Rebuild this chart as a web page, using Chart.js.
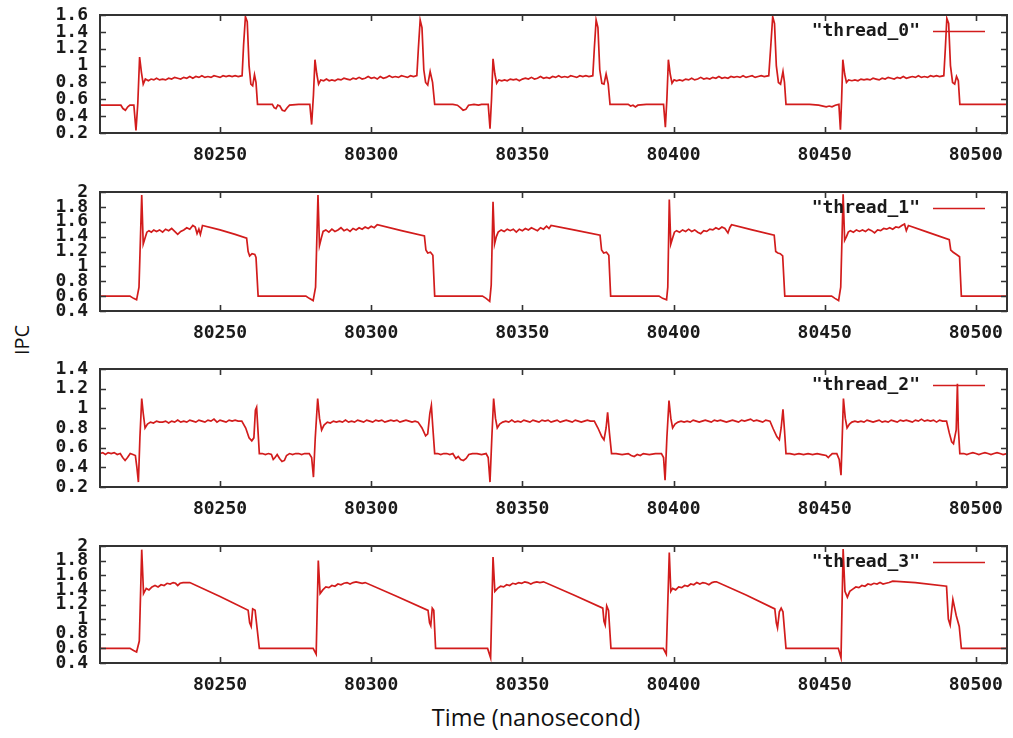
<!DOCTYPE html>
<html><head><meta charset="utf-8">
<script src="https://cdn.jsdelivr.net/npm/chart.js@4.4.1/dist/chart.umd.min.js"></script>
<style>
body{margin:0;background:#fff;width:1013px;height:738px;position:relative;overflow:hidden}
canvas{position:absolute;left:0}
#ylab{position:absolute;left:21px;top:340px;transform:translate(-50%,-50%) rotate(-90deg);font:20px "Open Sans";color:#111;white-space:nowrap}
#xlab{position:absolute;left:536px;top:717px;transform:translate(-50%,-50%);font:23.5px "Open Sans";color:#111;white-space:nowrap}
</style></head>
<body>
<div id="ylab">IPC</div>
<div id="xlab">Time (nanosecond)</div>
<script>
// ---- data (time in ns, IPC) ----
const xTicks = [80250, 80300, 80350, 80400, 80450, 80500];
const xMin = 80210.3, xMax = 80510.3;
const yTicks0 = [0.2, 0.4, 0.6, 0.8, 1.0, 1.2, 1.4, 1.6];
const yTicks1 = [0.4, 0.6, 0.8, 1.0, 1.2, 1.4, 1.6, 1.8, 2.0];
const yTicks2 = [0.2, 0.4, 0.6, 0.8, 1.0, 1.2, 1.4];
const yTicks3 = [0.4, 0.6, 0.8, 1.0, 1.2, 1.4, 1.6, 1.8, 2.0];
const seriesNames = ["thread_0", "thread_1", "thread_2", "thread_3"];

const thread0 = [
[80210.3,0.53],[80213,0.53],[80217.2,0.53],[80217.9,0.49],[80218.7,0.47],[80219.5,0.51],[80220.2,0.53],[80221.5,0.53],[80222.2,0.23],[80222.8,0.55],[80223.4,1.1],[80224,0.92],[80224.6,0.78],[80225.3,0.84],
[80226.3,0.82],[80227.2,0.84],[80228.1,0.83],[80229,0.85],[80230,0.83],[80231,0.84],[80232,0.83],[80233,0.85],[80234,0.84],[80235,0.86],[80236,0.85],[80237,0.84],[80238,0.86],[80239,0.85],[80240,0.87],[80241,0.85],[80242,0.87],[80243,0.86],[80244,0.88],[80245,0.86],[80246,0.87],[80247,0.86],[80248,0.88],[80249,0.87],[80250,0.86],[80251,0.88],[80252,0.87],[80253,0.88],[80254,0.87],[80255,0.88],[80256,0.87],[80257.3,0.88],
[80257.8,1.25],[80258.4,1.58],[80259,1.52],[80259.6,1.0],[80260.2,0.78],[80260.8,0.76],[80261.4,0.89],[80261.9,0.8],[80262.4,0.54],
[80265,0.54],[80267.3,0.54],[80267.9,0.5],[80268.5,0.49],[80269.1,0.53],[80269.8,0.52],[80270.6,0.47],[80271.4,0.46],[80272.2,0.5],[80273,0.53],[80276,0.54],[80279.7,0.54],
[80280.3,0.3],[80280.9,0.65],[80281.4,1.07],[80282,0.9],[80282.6,0.78],[80283.3,0.83],
[80284.3,0.82],[80285.2,0.84],[80286.1,0.82],[80287,0.83],[80288,0.82],[80289,0.84],[80290,0.83],[80291,0.85],[80292,0.84],[80293,0.83],[80294,0.85],[80295,0.84],[80296,0.86],[80297,0.84],[80298,0.85],[80299,0.87],[80300,0.85],[80301,0.86],[80302,0.84],[80303,0.87],[80304,0.85],[80305,0.86],[80306,0.88],[80307,0.86],[80308,0.87],[80309,0.86],[80310,0.88],[80311,0.87],[80312,0.86],[80313,0.88],[80314,0.87],[80315.1,0.88],
[80315.6,1.2],[80316.2,1.54],[80316.8,1.45],[80317.4,0.95],[80318,0.8],[80318.7,0.77],[80319.5,0.93],[80320.3,0.8],[80321,0.54],
[80323,0.54],[80327,0.54],[80328.5,0.53],[80329.5,0.5],[80330.4,0.47],[80331.3,0.48],[80332.2,0.53],[80334,0.54],[80335.5,0.53],[80336.5,0.54],[80338.7,0.54],
[80339.3,0.25],[80339.8,0.6],[80340.3,1.08],[80340.9,0.9],[80341.5,0.79],[80342.2,0.83],
[80343.2,0.82],[80344.1,0.83],[80345,0.82],[80346,0.84],[80347,0.83],[80348,0.84],[80349,0.82],[80350,0.84],[80351,0.85],[80352,0.84],[80353,0.86],[80354,0.84],[80355,0.85],[80356,0.87],[80357,0.85],[80358,0.86],[80359,0.85],[80360,0.87],[80361,0.86],[80362,0.88],[80363,0.86],[80364,0.87],[80365,0.86],[80366,0.88],[80367,0.87],[80368,0.86],[80369,0.88],[80370,0.87],[80371,0.88],[80372,0.87],[80373.3,0.88],
[80373.8,1.2],[80374.4,1.54],[80375,1.45],[80375.6,0.95],[80376.3,0.79],[80377,0.78],[80377.7,0.9],[80378.4,0.78],[80379,0.54],
[80382,0.54],[80385,0.54],[80385.8,0.52],[80386.6,0.53],[80387.4,0.51],[80388.2,0.53],[80391,0.54],[80396.7,0.54],
[80397.3,0.27],[80397.8,0.6],[80398.3,1.07],[80398.9,0.9],[80399.5,0.79],[80400.2,0.83],
[80401,0.82],[80402,0.83],[80403,0.82],[80404,0.84],[80405,0.83],[80406,0.85],[80407,0.83],[80408,0.84],[80409,0.86],[80410,0.84],[80411,0.85],[80412,0.84],[80413,0.86],[80414,0.85],[80415,0.87],[80416,0.85],[80417,0.86],[80418,0.85],[80419,0.87],[80420,0.86],[80421,0.87],[80422,0.86],[80423,0.88],[80424,0.86],[80425,0.87],[80426,0.88],[80427,0.86],[80428,0.87],[80429,0.88],[80430,0.87],[80431.5,0.88],
[80432.2,1.25],[80432.8,1.58],[80433.4,1.5],[80434,1.0],[80434.7,0.8],[80435.4,0.78],[80436.2,0.93],[80436.7,0.8],[80437.2,0.54],
[80440,0.54],[80445,0.54],[80448,0.53],[80450.5,0.51],[80451.5,0.52],[80452.4,0.51],[80453.5,0.53],[80454.7,0.54],
[80455.2,0.24],[80455.6,0.6],[80456,1.07],[80456.6,0.9],[80457.2,0.8],[80457.9,0.83],
[80459,0.82],[80460,0.83],[80461,0.82],[80462,0.84],[80463,0.83],[80464,0.84],[80465,0.83],[80466,0.85],[80467,0.84],[80468,0.83],[80469,0.85],[80470,0.84],[80471,0.86],[80472,0.85],[80473,0.84],[80474,0.86],[80475,0.85],[80476,0.87],[80477,0.85],[80478,0.86],[80479,0.87],[80480,0.86],[80481,0.88],[80482,0.86],[80483,0.87],[80484,0.86],[80485,0.88],[80486,0.87],[80487,0.88],[80488,0.87],[80489.4,0.88],
[80489.9,1.2],[80490.4,1.56],[80491,1.5],[80491.6,1.0],[80492.3,0.8],[80493,0.78],[80493.6,0.87],[80494.2,0.82],[80494.7,0.54],
[80500,0.54],[80505,0.54],[80510.3,0.54]
];

const thread1 = [
[80210.3,0.6],[80215,0.6],[80220.2,0.6],[80221.4,0.57],[80222.4,0.55],[80223.2,0.72],[80224.1,1.96],[80224.6,1.3],[80225.2,1.38],[80225.8,1.46],
[80226.5,1.48],[80227.3,1.46],[80228.1,1.49],[80229,1.47],[80230,1.49],[80231,1.46],[80232,1.5],[80233,1.48],[80234,1.51],[80235,1.47],[80236,1.43],[80237,1.47],[80238,1.49],[80239,1.52],[80240,1.5],[80241,1.55],[80241.8,1.53],[80242.4,1.44],[80243,1.5],[80243.5,1.43],[80244.2,1.55],
[80250,1.49],[80255,1.43],[80258.8,1.38],[80259.3,1.2],[80259.8,1.14],[80260.6,1.17],[80261.5,1.16],[80261.9,1.12],[80262.6,0.6],
[80270,0.6],[80278.4,0.6],[80279.5,0.57],[80280.8,0.54],[80281.6,0.72],[80282.4,1.96],[80282.9,1.28],[80283.5,1.38],[80284.1,1.47],
[80285,1.49],[80286,1.46],[80287,1.5],[80288,1.47],[80289,1.49],[80290,1.52],[80291,1.48],[80292,1.5],[80293,1.47],[80294,1.51],[80295,1.49],[80296,1.52],[80297,1.5],[80298,1.53],[80299,1.51],[80300,1.54],[80301,1.52],[80302,1.56],
[80310,1.48],[80317.6,1.41],[80318.1,1.22],[80318.7,1.18],[80319.6,1.19],[80320.4,1.15],[80321,0.6],
[80330,0.6],[80336.8,0.6],[80338,0.57],[80339.2,0.53],[80339.7,0.75],[80340.3,1.87],[80340.8,1.3],[80341.4,1.4],[80342,1.46],
[80343,1.49],[80344,1.47],[80345,1.5],[80346,1.48],[80347,1.5],[80348,1.46],[80349,1.5],[80350,1.48],[80351,1.51],[80352,1.49],[80353,1.52],[80354,1.5],[80355,1.48],[80356,1.52],[80357,1.5],[80358,1.54],[80358.8,1.51],[80359.5,1.55],
[80367,1.49],[80375.7,1.42],[80376.2,1.22],[80376.9,1.18],[80377.8,1.19],[80378.6,1.15],[80379.2,0.6],
[80388,0.6],[80395.2,0.6],[80396.4,0.57],[80397.7,0.55],[80398.1,0.72],[80398.6,1.9],[80399.1,1.3],[80399.7,1.38],[80400.3,1.46],
[80401,1.48],[80402,1.46],[80403,1.49],[80404,1.47],[80405,1.5],[80406,1.47],[80407,1.49],[80408,1.46],[80409,1.44],[80410,1.48],[80411,1.47],[80412,1.5],[80413,1.49],[80414,1.52],[80415,1.5],[80416,1.53],[80417,1.51],[80418,1.45],[80418.6,1.52],[80419.2,1.56],
[80426,1.49],[80433.3,1.42],[80433.8,1.2],[80434.5,1.18],[80435.3,1.17],[80436.1,1.14],[80436.8,0.6],
[80445,0.6],[80452.3,0.6],[80453.4,0.57],[80454.6,0.54],[80455.3,0.72],[80456.1,1.97],[80456.6,1.35],[80457.2,1.4],[80457.8,1.46],
[80458.5,1.48],[80459.5,1.46],[80460.5,1.49],[80461.5,1.47],[80462.5,1.49],[80463.5,1.47],[80464.5,1.5],[80465.5,1.48],[80466.5,1.45],[80467.5,1.49],[80468.5,1.48],[80469.5,1.51],[80470.5,1.5],[80471.5,1.52],[80472.5,1.5],[80473.5,1.53],[80474.5,1.52],[80475.5,1.55],[80476.4,1.57],[80477,1.48],[80477.7,1.55],
[80484,1.46],[80491.2,1.36],[80491.7,1.22],[80492.5,1.19],[80493.6,1.16],[80494.6,1.13],[80495.2,0.6],
[80500,0.6],[80510.3,0.6]
];

const thread2 = [
[80210.3,0.54],[80211.2,0.55],[80212.1,0.53],[80213,0.55],[80214,0.54],[80215,0.55],[80216,0.53],[80217,0.54],[80217.8,0.5],[80218.6,0.47],[80219.4,0.5],[80220.3,0.54],[80221.2,0.53],[80222,0.52],[80222.5,0.4],[80223,0.25],[80223.5,0.7],[80224.1,1.1],[80224.6,0.95],[80225.2,0.8],[80226,0.84],
[80227,0.86],[80228,0.85],[80229,0.87],[80230,0.86],[80231,0.86],[80232,0.87],[80233,0.85],[80234,0.87],[80235,0.86],[80236,0.88],[80237,0.86],[80238,0.87],[80239,0.86],[80240,0.88],[80241,0.87],[80242,0.86],[80243,0.88],[80244,0.87],[80245,0.86],[80246,0.88],[80247,0.87],[80248,0.89],[80249,0.86],[80250,0.88],[80251,0.87],[80252,0.86],[80253,0.88],[80254,0.87],[80255,0.88],[80256,0.87],[80257.2,0.87],
[80258.5,0.8],[80259.6,0.7],[80260.5,0.67],[80261.2,0.7],[80261.7,0.98],[80262.1,1.01],[80262.6,0.75],[80263,0.54],
[80264,0.54],[80265,0.53],[80266,0.54],[80267,0.53],[80267.6,0.48],[80268.2,0.5],[80268.9,0.53],[80269.7,0.49],[80270.5,0.46],[80271.3,0.47],[80272,0.52],[80273,0.54],[80274,0.53],[80275,0.54],[80276,0.54],[80277,0.53],[80278,0.54],[80279.5,0.54],[80280.3,0.5],[80280.9,0.3],[80281.5,0.7],[80282.3,1.1],[80282.9,0.9],[80283.6,0.78],[80284.4,0.83],
[80285.5,0.86],[80286.5,0.85],[80287.5,0.87],[80288.5,0.86],[80289.5,0.87],[80290.5,0.86],[80291.5,0.88],[80292.5,0.86],[80293.5,0.87],[80294.5,0.86],[80295.5,0.88],[80296.5,0.87],[80297.5,0.86],[80298.5,0.88],[80299.5,0.87],[80300.5,0.86],[80301.5,0.88],[80302.5,0.87],[80303.5,0.88],[80304.5,0.86],[80305.5,0.87],[80306.5,0.88],[80307.5,0.87],[80308.5,0.88],[80309.5,0.86],[80310.5,0.87],[80311.5,0.88],[80312.5,0.87],[80313.5,0.86],[80314.5,0.87],[80315.5,0.86],
[80316.8,0.8],[80318,0.72],[80318.7,0.74],[80319.4,0.95],[80319.9,1.03],[80320.4,0.8],[80321,0.54],
[80322,0.54],[80323,0.53],[80324,0.54],[80325,0.54],[80326,0.53],[80327,0.54],[80328,0.49],[80328.8,0.51],[80329.6,0.48],[80330.5,0.47],[80331.4,0.49],[80332.3,0.53],[80333.5,0.54],[80335,0.54],[80336.5,0.53],[80338,0.54],[80338.7,0.5],[80339.3,0.25],[80339.9,0.7],[80340.5,1.1],[80341.1,0.9],[80341.7,0.8],[80342.5,0.84],
[80343.5,0.86],[80344.5,0.87],[80345.5,0.86],[80346.5,0.88],[80347.5,0.86],[80348.5,0.87],[80349.5,0.86],[80350.5,0.88],[80351.5,0.87],[80352.5,0.86],[80353.5,0.88],[80354.5,0.87],[80355.5,0.86],[80356.5,0.88],[80357.5,0.87],[80358.5,0.88],[80359.5,0.86],[80360.5,0.87],[80361.5,0.88],[80362.5,0.86],[80363.5,0.87],[80364.5,0.88],[80365.5,0.87],[80366.5,0.86],[80367.5,0.88],[80368.5,0.87],[80369.5,0.86],[80370.5,0.87],[80371.5,0.88],[80372.5,0.87],[80373.8,0.87],
[80375,0.8],[80376.3,0.71],[80377,0.68],[80377.7,0.8],[80378.2,0.96],[80378.8,0.75],[80379.5,0.54],
[80381,0.54],[80383,0.53],[80385,0.54],[80386,0.52],[80387,0.51],[80388,0.53],[80389,0.52],[80390,0.54],[80392,0.53],[80394,0.54],[80396,0.54],[80396.7,0.5],[80397.2,0.27],[80397.8,0.7],[80398.5,1.08],[80399.1,0.9],[80399.7,0.8],[80400.5,0.84],
[80401.5,0.86],[80402.5,0.87],[80403.5,0.86],[80404.5,0.87],[80405.5,0.86],[80406.5,0.88],[80407.5,0.87],[80408.5,0.86],[80409.5,0.87],[80410.5,0.88],[80411.5,0.87],[80412.5,0.86],[80413.5,0.88],[80414.5,0.87],[80415.5,0.88],[80416.5,0.87],[80417.5,0.86],[80418.5,0.87],[80419.5,0.88],[80420.5,0.87],[80421.5,0.86],[80422.5,0.88],[80423.5,0.87],[80424.5,0.88],[80425.5,0.89],[80426.5,0.87],[80427.5,0.88],[80428.5,0.87],[80429.5,0.86],[80430.5,0.88],[80431.9,0.87],
[80433,0.79],[80434.2,0.71],[80435,0.68],[80435.6,0.8],[80436.2,0.99],[80436.7,0.78],[80437.2,0.54],
[80438.5,0.54],[80440,0.53],[80441.5,0.54],[80443,0.53],[80444.5,0.54],[80446,0.53],[80447.5,0.54],[80449,0.53],[80450.5,0.52],[80451.2,0.5],[80451.8,0.52],[80452.5,0.54],[80454,0.54],[80454.8,0.48],[80455.4,0.32],[80455.8,0.7],[80456.2,1.1],[80456.8,0.9],[80457.4,0.8],[80458.2,0.84],
[80459,0.86],[80460,0.87],[80461,0.86],[80462,0.87],[80463,0.86],[80464,0.88],[80465,0.87],[80466,0.86],[80467,0.87],[80468,0.88],[80469,0.86],[80470,0.87],[80471,0.86],[80472,0.88],[80473,0.87],[80474,0.86],[80475,0.88],[80476,0.87],[80477,0.88],[80478,0.87],[80479,0.86],[80480,0.88],[80481,0.87],[80482,0.89],[80483,0.87],[80484,0.88],[80485,0.87],[80486,0.88],[80487,0.86],[80488,0.88],[80489,0.87],[80490.3,0.87],
[80491.2,0.75],[80492,0.66],[80492.6,0.64],[80493.1,0.72],[80493.5,0.78],[80493.9,1.25],[80494.2,0.8],[80494.7,0.54],
[80496,0.54],[80497,0.53],[80498,0.54],[80499,0.55],[80500,0.54],[80501,0.53],[80502,0.54],[80503,0.55],[80504,0.54],[80505,0.53],[80506,0.54],[80507,0.55],[80508,0.54],[80509,0.53],[80510.3,0.54]
];

const thread3 = [
[80210.3,0.6],[80215,0.6],[80220.2,0.6],[80221.4,0.57],[80222.4,0.55],[80223.3,0.7],[80224.1,1.95],[80224.7,1.35],[80225.6,1.42],[80226.5,1.4],[80227.5,1.44],[80228.5,1.46],[80229.5,1.44],[80230.5,1.47],[80231.5,1.46],[80232.5,1.49],[80233.5,1.48],[80234.5,1.5],[80235.3,1.49],[80236,1.46],[80236.8,1.49],[80237.8,1.5],[80239,1.5],[80240,1.5],
[80250,1.31],[80259.3,1.12],[80259.8,0.95],[80260.3,0.9],[80260.8,1.14],[80261.6,1.12],[80263,0.6],
[80270,0.6],[80280.8,0.6],[80281.8,0.52],[80282.5,1.8],[80283.1,1.35],[80284,1.4],[80285,1.44],[80286,1.43],[80287,1.46],[80288,1.45],[80289,1.48],[80290,1.47],[80291,1.49],[80292,1.5],[80293,1.48],[80294,1.5],[80295,1.51],[80296,1.5],[80297,1.49],[80298,1.5],
[80308,1.32],[80318.8,1.12],[80319.3,0.95],[80319.7,0.91],[80320.2,1.15],[80320.7,1.12],[80321.3,0.6],
[80330,0.6],[80338.5,0.6],[80339.5,0.47],[80340.3,1.85],[80340.9,1.38],[80341.8,1.42],[80342.8,1.45],[80343.8,1.44],[80344.8,1.47],[80345.8,1.46],[80346.8,1.49],[80347.8,1.48],[80348.8,1.5],[80349.8,1.49],[80350.8,1.51],[80351.8,1.5],[80352.8,1.48],[80353.8,1.5],[80354.8,1.51],[80355.8,1.5],[80357,1.51],
[80367,1.33],[80376.6,1.15],[80377,0.97],[80377.4,0.92],[80377.9,1.18],[80378.5,1.12],[80379.3,0.6],
[80388,0.6],[80396.6,0.6],[80397.6,0.52],[80398.6,1.91],[80399.1,1.38],[80399.7,1.42],[80400.7,1.4],[80401.7,1.44],[80402.7,1.43],[80403.7,1.46],[80404.7,1.45],[80405.7,1.48],[80406.7,1.47],[80407.7,1.5],[80408.7,1.48],[80409.7,1.5],[80410.7,1.49],[80411.7,1.47],[80412.7,1.5],[80413.5,1.51],[80414.2,1.51],
[80424,1.33],[80433.5,1.14],[80434,0.95],[80434.4,0.88],[80435,1.1],[80435.6,1.15],[80436.2,1.1],[80437.2,0.6],
[80445,0.6],[80454.5,0.6],[80455.4,0.47],[80456.1,1.96],[80456.7,1.38],[80457.5,1.3],[80458.3,1.38],[80459.3,1.41],[80460.3,1.44],[80461.3,1.43],[80462.3,1.46],[80463.3,1.45],[80464.3,1.48],[80465.3,1.47],[80466.3,1.49],[80467.3,1.48],[80468.3,1.5],[80469.3,1.48],[80470.3,1.49],[80471.3,1.5],[80472.5,1.52],
[80480,1.5],[80490.3,1.45],[80490.9,1.0],[80491.5,0.92],[80492.4,1.27],[80493.5,1.05],[80494.5,0.9],[80495.2,0.6],
[80500,0.6],[80510.3,0.6]
];

// ---- layout / style ----
const panelBoxes = [
  {top: 15, bottom: 133},
  {top: 192, bottom: 311},
  {top: 369, bottom: 487},
  {top: 546, bottom: 663}
];
const PLOT_LEFT = 100, PLOT_RIGHT = 1007, W = 1013;
const PAD_TOP = 12, XAXIS_H = 42;
const LINE_COLOR = '#d21c1c';
const FRAME_COLOR = '#333333';
const TICK_FONT = {family: '"DejaVu Sans Mono", monospace', size: 18, weight: 'bold'};

const framePlugin = {
  id: 'frame',
  afterDatasetsDraw(chart) {
    const {ctx, chartArea: a, scales} = chart;
    ctx.save();
    ctx.strokeStyle = FRAME_COLOR;
    ctx.lineWidth = 1.6;
    const L = 6;
    ctx.beginPath();
    scales.x.ticks.forEach(t => {
      const px = Math.round(scales.x.getPixelForValue(t.value)) + 0.5;
      ctx.moveTo(px, a.bottom); ctx.lineTo(px, a.bottom - L);
      ctx.moveTo(px, a.top); ctx.lineTo(px, a.top + L);
    });
    scales.y.ticks.forEach(t => {
      const py = Math.round(scales.y.getPixelForValue(t.value)) + 0.5;
      ctx.moveTo(a.left, py); ctx.lineTo(a.left + L, py);
      ctx.moveTo(a.right, py); ctx.lineTo(a.right - L, py);
    });
    ctx.stroke();
    ctx.lineWidth = 2;
    ctx.strokeRect(a.left, a.top, a.right - a.left, a.bottom - a.top);
    // key
    const label = chart.data.datasets[0].label;
    const ky = a.top + 16;
    ctx.fillStyle = '#1a1a1a';
    ctx.font = 'bold 18px "DejaVu Sans Mono", monospace';
    ctx.textAlign = 'right';
    ctx.textBaseline = 'middle';
    ctx.fillText('"' + label + '"', 920, ky);
    ctx.strokeStyle = LINE_COLOR;
    ctx.lineWidth = 1.7;
    ctx.beginPath(); ctx.moveTo(933, ky + 0.5); ctx.lineTo(985, ky + 0.5); ctx.stroke();
    ctx.restore();
  }
};

function makePanel(i, name, points, yTicks) {
  const box = panelBoxes[i];
  const h = (box.bottom - box.top) + PAD_TOP + XAXIS_H;
  const c = document.createElement('canvas');
  c.width = W; c.height = h;
  c.style.width = W + 'px'; c.style.height = h + 'px';
  c.style.top = (box.top - PAD_TOP) + 'px';
  document.body.appendChild(c);
  new Chart(c, {
    type: 'line',
    data: {
      datasets: [{
        label: name,
        data: points.map(p => ({x: p[0], y: p[1]})),
        borderColor: LINE_COLOR,
        borderWidth: 1.7,
        pointRadius: 0,
        tension: 0,
        fill: false
      }]
    },
    options: {
      responsive: false,
      animation: false,
      devicePixelRatio: 1,
      layout: {padding: {top: PAD_TOP, right: W - PLOT_RIGHT, left: 0, bottom: 0}},
      plugins: {legend: {display: false}, tooltip: {enabled: false}},
      scales: {
        x: {
          type: 'linear', min: xMin, max: xMax,
          grid: {display: false, drawTicks: false},
          border: {display: false},
          afterFit: s => { s.height = XAXIS_H; s.paddingLeft = 0; s.paddingRight = 0; },
          afterBuildTicks: s => { s.ticks = xTicks.map(v => ({value: v})); },
          ticks: {
            autoSkip: false, maxRotation: 0, padding: 12,
            color: '#1a1a1a', font: TICK_FONT,
            callback: v => String(v)
          }
        },
        y: {
          type: 'linear', min: yTicks[0], max: yTicks[yTicks.length - 1],
          grid: {display: false, drawTicks: false},
          border: {display: false},
          afterFit: s => { s.width = PLOT_LEFT; s.paddingTop = 0; s.paddingBottom = 0; },
          afterBuildTicks: s => { s.ticks = yTicks.map(v => ({value: v})); },
          ticks: {
            autoSkip: false, padding: 12,
            color: '#1a1a1a', font: TICK_FONT,
            callback: v => String(+(+v).toFixed(1))
          }
        }
      }
    },
    plugins: [framePlugin]
  });
}

makePanel(0, seriesNames[0], thread0, yTicks0);
makePanel(1, seriesNames[1], thread1, yTicks1);
makePanel(2, seriesNames[2], thread2, yTicks2);
makePanel(3, seriesNames[3], thread3, yTicks3);
</script>
</body></html>
